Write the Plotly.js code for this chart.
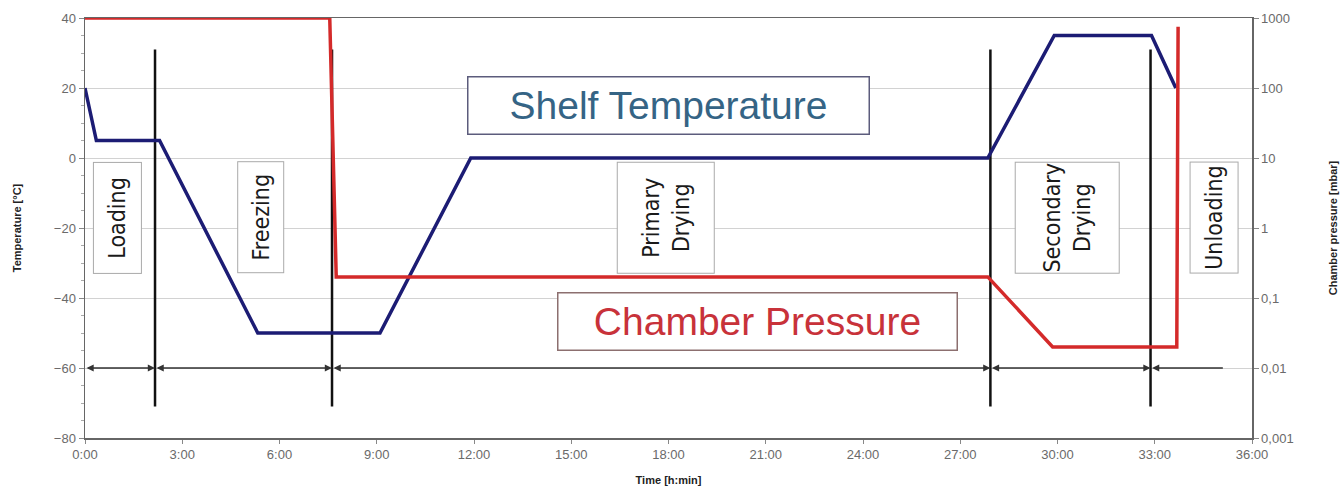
<!DOCTYPE html>
<html>
<head>
<meta charset="utf-8">
<script src="https://cdn.plot.ly/plotly-3.0.1.min.js"></script>
<style>html,body{margin:0;padding:0;background:#fff;}#chart{width:1344px;height:489px;}</style>
</head>
<body>
<div id="chart"></div>
<script>
// Shelf temperature profile (time in hours, temperature in °C)
const shelfTime = [0, 0.35, 2.3, 5.33, 9.1, 11.9, 27.85, 29.9, 32.9, 33.65];
const shelfTemp = [20, 5, 5, -50, -50, 0, 0, 35, 35, 20];

// Chamber pressure profile (time in hours, pressure in mbar)
const pressTime = [0, 7.55, 7.75, 27.85, 29.85, 33.68, 33.72];
const pressVal  = [1000, 1000, 0.2, 0.2, 0.02, 0.02, 750];

// Phase boundaries (hours) and phase labels
const phaseBounds = [0, 2.16, 7.62, 27.93, 32.87, 35.1];
const phaseLabels = ["Loading", "Freezing", "Primary<br>Drying", "Secondary<br>Drying", "Unloading"];
const phaseLabelX = [1.0, 5.42, 17.9, 30.3, 34.83];
const phaseLabelY = -17;
const phaseLineTop = 31, phaseLineBottom = -71, phaseArrowY = -60;

// Axis ticks
const xTickVals = [0, 3, 6, 9, 12, 15, 18, 21, 24, 27, 30, 33, 36];
const xTickText = ["0:00", "3:00", "6:00", "9:00", "12:00", "15:00", "18:00", "21:00", "24:00", "27:00", "30:00", "33:00", "36:00"];
const y2TickVals = [1000, 100, 10, 1, 0.1, 0.01, 0.001];
const y2TickText = ["1000", "100", "10", "1", "0,1", "0,01", "0,001"];

// vertical phase separator lines
const vx = [], vy = [];
for (let i = 1; i < phaseBounds.length - 1; i++) {
  vx.push(phaseBounds[i], phaseBounds[i], null);
  vy.push(phaseLineBottom, phaseLineTop, null);
}

const traces = [
  {x: vx, y: vy, mode: "lines", line: {color: "#111", width: 2.5}, hoverinfo: "skip", showlegend: false},
  {x: pressTime, y: pressVal, yaxis: "y2", mode: "lines", name: "Chamber Pressure",
   line: {color: "#d42a2a", width: 3.5}},
  {x: shelfTime, y: shelfTemp, mode: "lines", name: "Shelf Temperature",
   line: {color: "#1c1c74", width: 3.5}}
];

const narrow = "Liberation Sans Narrow, Arial Narrow, DejaVu Sans Condensed, sans-serif";
const annotations = [];
const boxWidths = [47, 45, 96, 103, 47];
for (let i = 0; i < phaseLabels.length; i++) {
  annotations.push({
    x: phaseLabelX[i], y: phaseLabelY, xref: "x", yref: "y",
    text: phaseLabels[i], showarrow: false, textangle: -90,
    width: 110, height: boxWidths[i],
    font: {family: narrow, size: 23, color: "#1a1a1a"},
    bordercolor: "#aaa", borderwidth: 1, borderpad: 0, bgcolor: "#fff"
  });
}
// phase duration arrows
for (let i = 0; i < phaseBounds.length - 1; i++) {
  const last = i === phaseBounds.length - 2;
  annotations.push({
    x: phaseBounds[i + 1], y: phaseArrowY, ax: phaseBounds[i], ay: phaseArrowY,
    xref: "x", yref: "y", axref: "x", ayref: "y", text: "",
    showarrow: true, arrowside: last ? "start" : "end+start",
    arrowhead: 2, startarrowhead: 2, arrowsize: 0.9, startarrowsize: 0.9,
    arrowwidth: 1.6, arrowcolor: "#333", standoff: 0, startstandoff: 0
  });
}
annotations.push({
  x: 18.0, y: 14.9, xref: "x", yref: "y", text: "Shelf Temperature", showarrow: false,
  width: 400, height: 56, font: {family: "Liberation Sans, Arial, sans-serif", size: 39, color: "#356485"},
  bordercolor: "#5c5c7c", borderwidth: 1.5, borderpad: 0, bgcolor: "#fff"
});
annotations.push({
  x: 20.74, y: -46.7, xref: "x", yref: "y", text: "Chamber Pressure", showarrow: false,
  width: 398, height: 56, font: {family: "Liberation Sans, Arial, sans-serif", size: 39, color: "#c8323a"},
  bordercolor: "#8c6f6f", borderwidth: 1.5, borderpad: 0, bgcolor: "#fff"
});

const layout = {
  width: 1344, height: 489,
  margin: {l: 85, r: 92, t: 18, b: 51},
  paper_bgcolor: "#fff", plot_bgcolor: "#fff",
  font: {family: "Liberation Sans, Arial, sans-serif", color: "#666"},
  showlegend: false,
  xaxis: {
    range: [0, 36], tickvals: xTickVals, ticktext: xTickText,
    showgrid: false, zeroline: false, showline: true, mirror: true,
    linecolor: "#666", linewidth: 1.5, ticks: "outside", ticklen: 4, tickcolor: "#888",
    tickfont: {size: 13, color: "#6a6a6a"},
    title: {text: "<b>Time [h:min]</b>", font: {size: 11, color: "#222"}, standoff: 15}
  },
  yaxis: {
    range: [-80, 40], dtick: 20, showgrid: true, gridcolor: "#d2d2d2", gridwidth: 1,
    zeroline: false, showline: true, linecolor: "#666", linewidth: 1.5,
    ticks: "outside", ticklen: 5, tickcolor: "#888",
    minor: {dtick: 5, ticks: "outside", ticklen: 3, tickcolor: "#aaa", showgrid: false},
    tickfont: {size: 13, color: "#6a6a6a"},
    title: {text: "<b>Temperature [°C]</b>", font: {size: 11, color: "#222"}, standoff: 30}
  },
  yaxis2: {
    type: "log", range: [-3, 3], overlaying: "y", side: "right",
    tickvals: y2TickVals, ticktext: y2TickText, showgrid: false, zeroline: false,
    showline: true, linecolor: "#666", linewidth: 1.5, ticks: "outside", ticklen: 5, tickcolor: "#888",
    tickfont: {size: 13, color: "#6a6a6a"},
    title: {text: "<b>Chamber pressure [mbar]</b>", font: {size: 11, color: "#222"}, standoff: 36}
  },
  annotations: annotations
};

Plotly.newPlot("chart", traces, layout, {displayModeBar: false, staticPlot: true});
</script>
</body>
</html>
